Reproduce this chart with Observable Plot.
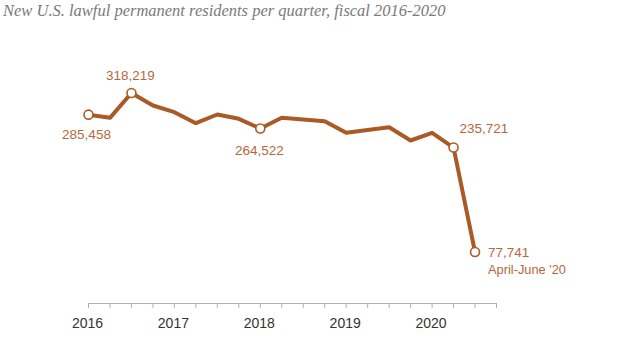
<!DOCTYPE html>
<html>
<head>
<meta charset="utf-8">
<script src="https://cdn.jsdelivr.net/npm/d3@7"></script>
<script src="https://cdn.jsdelivr.net/npm/@observablehq/plot@0.6"></script>
<style>
  body { margin: 0; background: #fff; width: 640px; height: 360px; overflow: hidden; }
  #title { height: 24px; padding-left: 3px; font-family: "Liberation Serif", "DejaVu Serif", serif; font-style: italic; font-size: 16.5px; color: #7a7a7a; line-height: 22px; white-space: nowrap; }
</style>
</head>
<body>
<div id="title">New U.S. lawful permanent residents per quarter, fiscal 2016-2020</div>
<div id="chart"></div>
<script>
// Fiscal quarters FY2016 Q1 .. FY2020 Q3
const quarters = d3.range(19);
const residents = [285458, 280700, 318219, 299300, 289200, 272600, 285700, 279200, 264522, 280700, 278000, 275600, 258000, 262300, 266500, 246400, 258000, 235721, 77741];
const tickQuarters = d3.range(20);
const yearLabels = ["2016", "2017", "2018", "2019", "2020"];
const yearQuarters = [0, 4, 8, 12, 16];

const data = quarters.map((q, i) => ({q, v: residents[i]}));
const years = yearLabels.map((y, i) => ({q: yearQuarters[i], label: y}));
const fmt = d3.format(",");
const pick = (idx) => data.filter(d => d.q === idx);

const lineColor = "#a95a25";
const labelColor = "#b5683d";
const font = "'Liberation Sans', Arial, sans-serif";

const chart = Plot.plot({
  width: 640,
  height: 336,
  marginLeft: 88,
  marginRight: 144,
  marginTop: 80.55,
  marginBottom: 57,
  x: {domain: [0, 19], axis: null, label: null},
  y: {domain: [0, 300000], axis: null, label: null},
  style: {fontFamily: font, background: "#fff"},
  marks: [
    Plot.ruleY([0], {x1: 0, x2: 19, stroke: "#b0b0b0", strokeWidth: 1}),
    Plot.axisX(tickQuarters, {anchor: "bottom", tickSize: 5, tickFormat: () => "", label: null, stroke: "#b0b0b0", strokeOpacity: 1}),
    Plot.text(years, {x: "q", y: 0, text: "label", dy: 20, dx: -1, fontSize: 14, fill: "#333"}),
    Plot.line(data, {x: "q", y: "v", stroke: lineColor, strokeWidth: 4, strokeLinejoin: "round", strokeLinecap: "round"}),
    Plot.dot(data.filter(d => [0, 2, 8, 17, 18].includes(d.q)), {x: "q", y: "v", r: 4.5, fill: "#fff", stroke: lineColor, strokeWidth: 1.6}),
    Plot.text(pick(0), {x: "q", y: "v", text: d => fmt(d.v), dx: -2, dy: 20, fontSize: 13.5, fill: labelColor}),
    Plot.text(pick(2), {x: "q", y: "v", text: d => fmt(d.v), dx: -1, dy: -17, fontSize: 13.5, fill: labelColor}),
    Plot.text(pick(8), {x: "q", y: "v", text: d => fmt(d.v), dx: -1, dy: 22, fontSize: 13.5, fill: labelColor}),
    Plot.text(pick(17), {x: "q", y: "v", text: d => fmt(d.v), dx: 6, dy: -19, textAnchor: "start", fontSize: 13.5, fill: labelColor}),
    Plot.text(pick(18), {x: "q", y: "v", text: d => fmt(d.v), dx: 13, dy: 1, textAnchor: "start", fontSize: 13.5, fill: labelColor}),
    Plot.text(pick(18), {x: "q", y: "v", text: () => "April-June '20", dx: 13, dy: 17.5, textAnchor: "start", fontSize: 12.8, fill: labelColor})
  ]
});
document.getElementById("chart").appendChild(chart);
</script>
</body>
</html>
